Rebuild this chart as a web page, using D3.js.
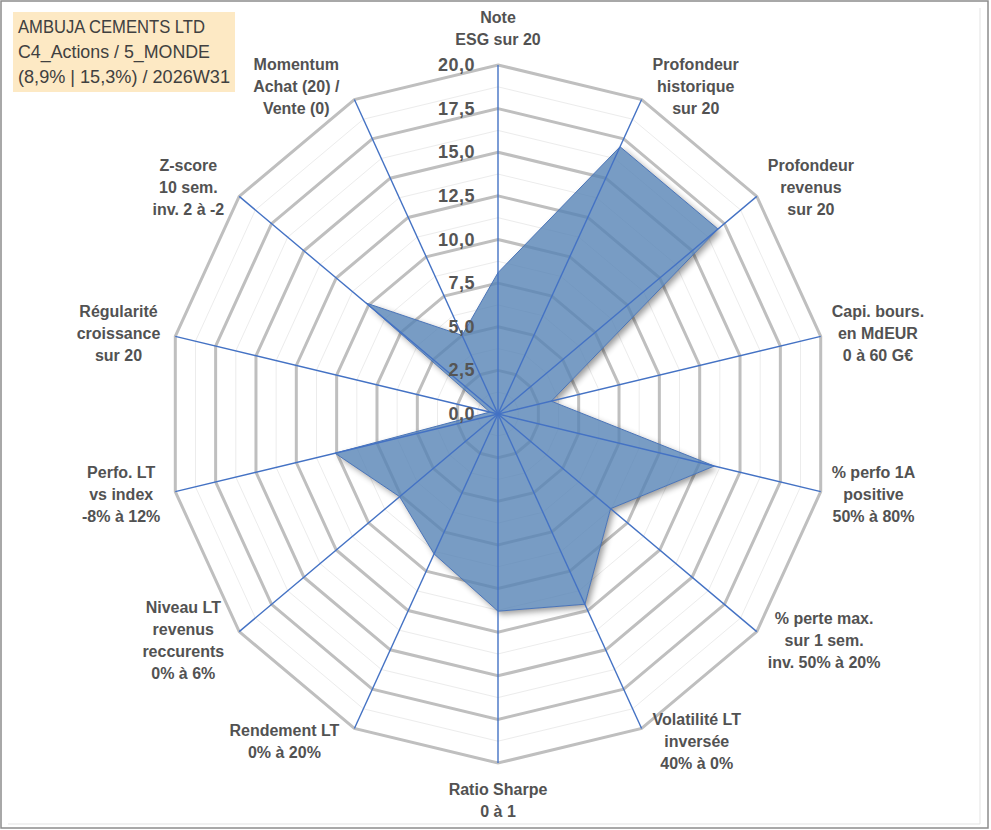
<!DOCTYPE html>
<html>
<head>
<meta charset="utf-8">
<script src="https://cdn.jsdelivr.net/npm/d3@7"></script>
<style>
  html, body { margin: 0; padding: 0; background: #ffffff; }
  svg { display: block; }
</style>
</head>
<body>
<svg id="chart" width="991" height="830"></svg>
<script>
// ---------- DATA ----------
const categories = [
  ["Note", "ESG sur 20"],
  ["Profondeur", "historique", "sur 20"],
  ["Profondeur", "revenus", "sur 20"],
  ["Capi. bours.", "en MdEUR", "0 à 60 G€"],
  ["% perfo 1A", "positive", "50% à 80%"],
  ["% perte max.", "sur 1 sem.", "inv. 50% à 20%"],
  ["Volatilité LT", "inversée", "40% à 0%"],
  ["Ratio Sharpe", "0 à 1"],
  ["Rendement LT", "0% à 20%"],
  ["Niveau LT", "revenus", "reccurents", "0% à 6%"],
  ["Perfo. LT", "vs index", "-8% à 12%"],
  ["Régularité", "croissance", "sur 20"],
  ["Z-score", "10 sem.", "inv. 2 à -2"],
  ["Momentum", "Achat (20) /", "Vente (0)"]
];
const values = [8.1, 17.0, 17.0, 3.3, 13.4, 8.7, 12.1, 11.3, 8.9, 7.6, 10.1, 0.5, 10.2, 5.0];
const majorTicks = [0, 2.5, 5, 7.5, 10, 12.5, 15, 17.5, 20];
const minorTicks = [1.25, 3.75, 6.25, 8.75, 11.25, 13.75, 16.25, 18.75];
const titleLines = ["AMBUJA CEMENTS LTD", "C4_Actions / 5_MONDE", "(8,9% | 15,3%) / 2026W31"];

// ---------- LAYOUT ----------
const W = 991, H = 830;
const cx = 498, cy = 414;
const svg = d3.select("#chart");
const N = categories.length;
const rx = d3.scaleLinear().domain([0, 20]).range([0, 331]);
const ry = d3.scaleLinear().domain([0, 20]).range([0, 349]);
const angle = d3.scaleLinear().domain([0, N]).range([0, 2 * Math.PI]);
const pt = (v, i) => [cx + rx(v) * Math.sin(angle(i)), cy - ry(v) * Math.cos(angle(i))];

const fmt = d3.formatLocale({decimal: ",", thousands: " ", grouping: [3], currency: ["", "€"]}).format(".1f");

// frame
svg.append("rect").attr("x", 0).attr("y", 0).attr("width", W).attr("height", H).attr("fill", "#ffffff");
svg.append("rect").attr("x", 1).attr("y", 1).attr("width", 987).attr("height", 827)
  .attr("fill", "none").attr("stroke", "#8c8c8c").attr("stroke-width", 1.5);
svg.append("line").attr("x1", 980).attr("x2", 980).attr("y1", 8).attr("y2", 824)
  .attr("stroke", "#e3e3e3").attr("stroke-width", 1);
svg.append("line").attr("x1", 8).attr("x2", 980).attr("y1", 824).attr("y2", 824)
  .attr("stroke", "#e3e3e3").attr("stroke-width", 1);

const defs = svg.append("defs");
const ringPath = v => "M" + d3.range(N).map(i => pt(v, i).join(",")).join("L") + "Z";

// minor grid
svg.append("g").selectAll("path").data(minorTicks).join("path")
  .attr("d", ringPath).attr("fill", "none").attr("stroke", "#ececec").attr("stroke-width", 1);
// major grid
svg.append("g").selectAll("path").data(majorTicks.filter(d => d > 0)).join("path")
  .attr("d", ringPath).attr("fill", "none").attr("stroke", "#bfbfbf").attr("stroke-width", 3)
  .attr("stroke-linejoin", "miter");

// series polygon
const seriesPath = "M" + values.map((v, i) => pt(v, i).join(",")).join("L") + "Z";

// shadow (outside only)
const blur = defs.append("filter").attr("id", "blur").attr("x", "-20%").attr("y", "-20%").attr("width", "140%").attr("height", "140%");
blur.append("feGaussianBlur").attr("stdDeviation", 3);
const mask = defs.append("mask").attr("id", "outside").attr("maskUnits", "userSpaceOnUse")
  .attr("x", 0).attr("y", 0).attr("width", W).attr("height", H);
mask.append("rect").attr("width", W).attr("height", H).attr("fill", "white");
mask.append("path").attr("d", seriesPath).attr("fill", "black");
svg.append("g").attr("mask", "url(#outside)")
  .append("path").attr("d", seriesPath).attr("transform", "translate(3,3)")
  .attr("fill", "#000").attr("opacity", 0.4).attr("filter", "url(#blur)");

svg.append("path").attr("d", seriesPath)
  .attr("fill", "rgb(86,131,181)").attr("fill-opacity", 0.8)
  .attr("stroke", "#4a74b8").attr("stroke-width", 1);

// axes
svg.append("g").selectAll("line").data(d3.range(N)).join("line")
  .attr("x1", cx).attr("y1", cy)
  .attr("x2", i => pt(20, i)[0]).attr("y2", i => pt(20, i)[1])
  .attr("stroke", "#4472c4").attr("stroke-width", 1.4);

// tick labels
svg.append("g").selectAll("text").data(majorTicks).join("text")
  .attr("x", cx - 23).attr("y", d => cy - ry(d))
  .attr("text-anchor", "end").attr("dominant-baseline", "central")
  .attr("font-family", "Liberation Sans, Arial, sans-serif")
  .attr("font-weight", "bold").attr("font-size", 18).attr("letter-spacing", 0.5)
  .attr("fill", "#555555")
  .text(d => fmt(d));

// category labels
const lh = 22;
const lg = svg.append("g")
  .attr("font-family", "Liberation Sans, Arial, sans-serif")
  .attr("font-weight", "bold").attr("font-size", 16).attr("fill", "#525252");
categories.forEach((lines, i) => {
  const a = angle(i);
  const s = Math.sin(a), c = Math.cos(a);
  const tip = pt(20, i);
  const g = lg.append("g");
  const texts = g.selectAll("text").data(lines).join("text")
    .attr("text-anchor", "middle").attr("dominant-baseline", "central")
    .text(d => d);
  let w = 0;
  texts.each(function() { w = Math.max(w, this.getComputedTextLength()); });
  const h = lines.length * lh;
  let ox, oy;
  if (Math.abs(s) < 1e-6) { ox = 0; oy = -c * (h / 2 + 15); }
  else { ox = Math.sign(s) * (w / 2 + (s < 0 ? 15 : 11)); oy = -c * 15; }
  const ccx = tip[0] + ox, ccy = tip[1] + oy;
  texts.attr("x", ccx).attr("y", (d, k) => ccy + (k - (lines.length - 1) / 2) * lh);
});

// title box
svg.append("rect").attr("x", 13).attr("y", 12).attr("width", 222).attr("height", 80).attr("fill", "#fde9c4");
const tLens = [187, 192, 212];
svg.append("g").selectAll("text").data(titleLines).join("text")
  .attr("x", 18).attr("y", (d, k) => 27 + k * 25)
  .attr("dominant-baseline", "central")
  .attr("font-family", "Liberation Sans, Arial, sans-serif").attr("font-size", 18)
  .attr("fill", "#404040")
  .attr("textLength", (d, k) => tLens[k]).attr("lengthAdjust", "spacingAndGlyphs")
  .text(d => d);
</script>
</body>
</html>
